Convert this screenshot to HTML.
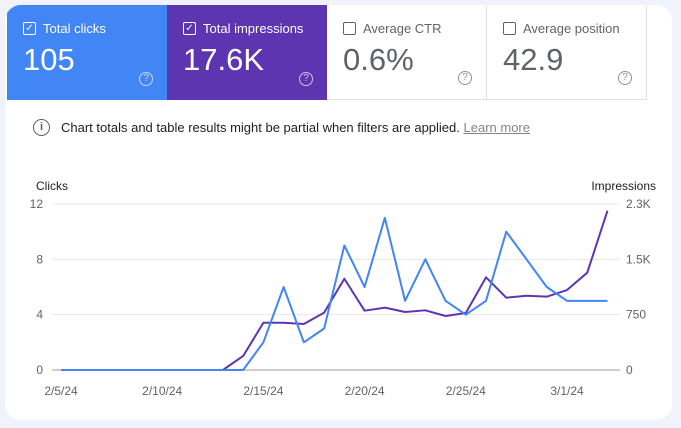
<!DOCTYPE html>
<html><head><meta charset="utf-8"><style>
body{margin:0;width:681px;height:428px;background:#f0f3fb;font-family:"Liberation Sans",sans-serif;overflow:hidden;position:relative}
.card{position:absolute;left:5px;top:5px;width:667px;height:415px;background:#fff;border-radius:16px;overflow:hidden}
.m{position:absolute;top:0;width:160px;height:95px;box-sizing:border-box;padding:16px 0 0 16px}
.m .t{font-size:13px;display:flex;align-items:center}
.cb{width:11px;height:11px;border:1.5px solid currentColor;border-radius:2px;margin-right:7px;display:inline-block;position:relative;font-size:10px;line-height:11px;text-align:center}
.m .v{font-size:31px;margin-top:6px}
.q{position:absolute;right:14px;bottom:14px;width:12px;height:12px;border:1.3px solid currentColor;border-radius:50%;font-size:10px;line-height:12px;text-align:center;opacity:.7}
</style></head><body>
<div class="card">
<div class="m" style="left:2px;background:#4285f4;color:#fff"><div class="t"><span class="cb">✓</span>Total clicks</div><div class="v">105</div><div class="q">?</div></div>
<div class="m" style="left:162px;background:#5e35b1;color:#fff"><div class="t"><span class="cb">✓</span>Total impressions</div><div class="v">17.6K</div><div class="q">?</div></div>
<div class="m" style="left:322px;color:#5f6368;border-right:1px solid #e0e0e0;border-bottom:1px solid #e0e0e0"><div class="t"><span class="cb"></span>Average CTR</div><div class="v">0.6%</div><div class="q">?</div></div>
<div class="m" style="left:482px;color:#5f6368;border-right:1px solid #e0e0e0;border-bottom:1px solid #e0e0e0"><div class="t"><span class="cb"></span>Average position</div><div class="v">42.9</div><div class="q">?</div></div>
<div style="position:absolute;left:28px;top:114px;font-size:13px;color:#202124;display:flex;align-items:center"><span style="width:15px;height:15px;border:1.5px solid #5f6368;border-radius:50%;font-size:11px;line-height:15px;text-align:center;margin-right:11px;color:#5f6368;font-weight:bold">i</span>Chart totals and table results might be partial when filters are applied.&nbsp;<span style="color:#80868b;text-decoration:underline">Learn more</span></div>
</div>
<svg id="c" width="681" height="428" style="position:absolute;left:0;top:0"></svg>
<script>
const dates=["2/5/24","2/6","2/7","2/8","2/9","2/10/24","2/11","2/12","2/13","2/14","2/15/24","2/16","2/17","2/18","2/19","2/20/24","2/21","2/22","2/23","2/24","2/25/24","2/26","2/27","2/28","2/29","3/1/24","3/2","3/3"];
const clicks=[0,0,0,0,0,0,0,0,0,0,2,6,2,3,9,6,11,5,8,5,4,5,10,8,6,5,5,5];
const impressions=[0,0,0,0,0,0,0,0,0,190,640,640,623,777,1237,804,845,786,809,732,773,1256,980,1007,994,1084,1319,2159];
const leftTicks=[0,4,8,12];
const rightTicks=["0","750","1.5K","2.3K"];
const xLabelIdx=[0,5,10,15,20,25];
const svg=document.getElementById('c');const NS="http://www.w3.org/2000/svg";
const X0=61,DX=20.24,Y0=370,YT=204;
const x=i=>X0+i*DX;
const yc=v=>Y0-v/12*(Y0-YT);
const yi=v=>Y0-v/2250*(Y0-YT);
function mk(t,a,txt){const e=document.createElementNS(NS,t);for(const k in a)e.setAttribute(k,a[k]);if(txt!==undefined)e.textContent=txt;svg.appendChild(e);return e;}
leftTicks.forEach((t,i)=>{
 const g=mk('line',{x1:52,x2:620,y1:yc(t),y2:yc(t),stroke:i==0?'#9e9e9e':'#e8e8e8','stroke-width':1});
 
 
 const l=mk('text',{x:43,y:yc(t)+4,'text-anchor':'end','font-size':12,fill:'#5f6368'},t);
 
 
 const r=mk('text',{x:626,y:yc(t)+4,'font-size':12,fill:'#5f6368'},rightTicks[i]);
 
 
});
let a=mk('text',{x:36,y:190,'font-size':12,fill:'#202124'},'Clicks');
a=mk('text',{x:656,y:190,'font-size':12,fill:'#202124','text-anchor':'end'},'Impressions');
xLabelIdx.forEach(i=>{const t=mk('text',{x:x(i),y:395,'font-size':12,fill:'#5f6368','text-anchor':'middle'},dates[i]);
 
 });
let p=mk('polyline',{points:impressions.map((v,i)=>x(i)+','+yi(v)).join(' '),fill:'none',stroke:'#5e35b1','stroke-width':2,'stroke-linejoin':'round'});

p=mk('polyline',{points:clicks.map((v,i)=>x(i)+','+yc(v)).join(' '),fill:'none',stroke:'#4285f4','stroke-width':2,'stroke-linejoin':'round'});

</script>
</body></html>
